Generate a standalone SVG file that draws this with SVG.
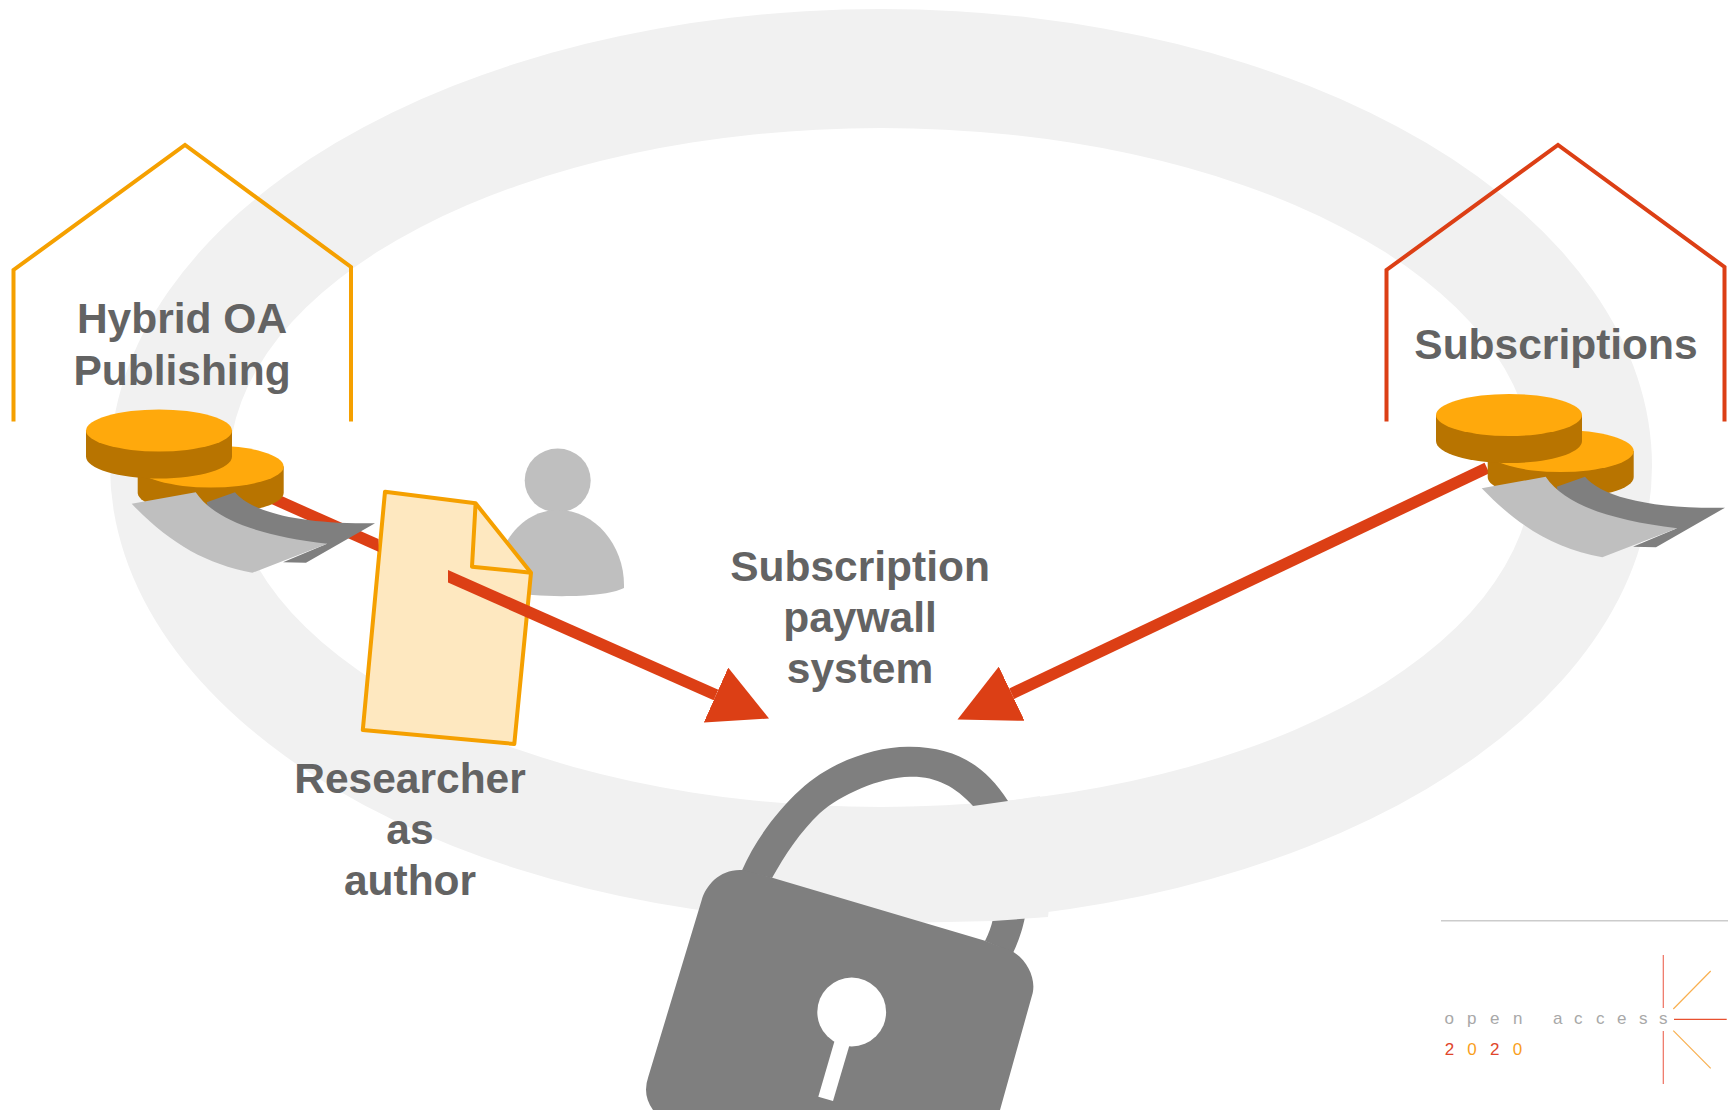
<svg xmlns="http://www.w3.org/2000/svg" xmlns:xlink="http://www.w3.org/1999/xlink" width="1728" height="1110" viewBox="0 0 1728 1110">
<style>
.label{font-family:"Liberation Sans",Arial,sans-serif;font-weight:700;font-size:42.5px;fill:#636363;text-anchor:middle}
.lockc{fill:#7f7f7f}
.ring{fill:#f1f1f1}
.conn{stroke:#dc3f15;stroke-width:11.5;fill:none}
.house{fill:none;stroke-width:4}
.coinTop{fill:#ffa90c}
.coinSide{fill:#b87400}
.logo{font-family:"Liberation Sans",Arial,sans-serif;font-size:17px}
</style>
<defs>
<marker id="head" markerUnits="userSpaceOnUse" markerWidth="62" markerHeight="60" viewBox="0 0 62 60" refX="0" refY="30" orient="auto"><path d="M0 0L58 30L0 60Z" fill="#dc3f15"/></marker>
<marker id="headR" markerUnits="userSpaceOnUse" markerWidth="62" markerHeight="60" viewBox="0 0 62 60" refX="0" refY="30" orient="auto"><path d="M0 0L60 30L0 60Z" fill="#dc3f15"/></marker>
<clipPath id="clipA"><rect x="0" y="0" width="378.5" height="1110"/></clipPath>
<clipPath id="clipB"><rect x="448" y="0" width="600" height="1110"/></clipPath>
<g id="coinMoney">
<path class="coinSide" d="M1487.7 451V477C1487.7 489 1520 498 1560.7 498S1633.7 489 1633.7 477V451Z"/>
<ellipse class="coinTop" cx="1560.7" cy="451" rx="73" ry="21"/>
<path class="coinSide" d="M1436 415V441C1436 453 1468 463 1509 463S1582 453 1582 441V415Z"/>
<ellipse class="coinTop" cx="1509" cy="415" rx="73" ry="21"/>
<path fill="#7f7f7f" d="M1556.7 486.7L1585 476.7C1600 495 1645 509 1725 507.7L1656 547.3L1633 546.7L1677 528.3L1620 540L1560 500Z"/>
<path fill="#bfbfbf" d="M1481.7 488.3L1545.7 476.7C1565 505 1610 520 1677.3 528.3L1602.3 557.3C1555 548 1520 528 1481.7 488.3Z"/>
</g>
</defs>
<rect width="1728" height="1110" fill="#ffffff"/>
<g id="lock-shackle-back"><path class="lockc" d="M1025 917C1022 932 1018 942 1013 953L985 941C989 933 991 927 993 919Z"/></g>
<g id="ring"><path class="ring" fill-rule="evenodd" d="M110 466A771 457 0 1 1 1652 466A771 457 0 1 1 110 466ZM229 467.5A652 339.5 0 1 0 1533 467.5A652 339.5 0 1 0 229 467.5Z"/>
<path class="ring" d="M900 807L973 806L1008 801L1040 796L1040 830L900 830ZM900 923L993 921L1048 917L1050 900L900 900Z"/></g>
<g id="lock">
<path class="lockc" d="M741.7 871C755 840 778 810 800 790C830 762 875 746 910 746.7C955 747 985 765 1008 801L973 806C955 786 935 776 910 776.7C880 777 840 795 820 813C800 832 785 855 772 878Z"/>
<path class="lockc" d="M741.7 870L772.3 877.7L985 940.7L1013 951.7C1027 960 1036 978 1032.7 993L1000 1110L653 1110Q642 1095 648.3 1076.7L701.7 900C706 885 720 869 741.7 870Z"/>
<circle cx="851.7" cy="1012" r="34.4" fill="#fff"/>
<path fill="#fff" d="M836 1036L851 1040L833 1101L818.3 1096.7Z"/>
</g>
<g id="hybrid-house">
<path class="house" stroke="#f5a000" d="M13.5 421.5V270L185 145L351 267V421.5"/>
<text class="label" x="182" y="333">Hybrid OA</text>
<text class="label" x="182" y="385">Publishing</text>
</g>
<g id="subscriptions-house">
<path class="house" stroke="#dc3f15" d="M1386.5 421.5V270L1558 145L1724.5 267V421.5"/>
<text class="label" x="1556" y="359">Subscriptions</text>
</g>
<g id="researcher">
<ellipse cx="557.7" cy="480.5" rx="33" ry="32" fill="#bfbfbf"/>
<path fill="#bfbfbf" d="M624 585C624 545 595 510 558 510C530 510 510 530 500 555L495 590C520 597 600 600 624 588Z"/>
<text class="label" x="410" y="792.5">Researcher</text>
<text class="label" x="410" y="844">as</text>
<text class="label" x="410" y="895">author</text>
</g>
<g id="paper">
<path fill="#fee8c0" stroke="#f5a000" stroke-width="4" stroke-linejoin="round" d="M385 491.7L475.6 503.3L531 572.7L514.3 744L362.8 730Z"/>
<path fill="none" stroke="#f5a000" stroke-width="4" stroke-linejoin="round" d="M475.6 503.3L472 566.7L531 572.7"/>
</g>
<g id="paywall-label">
<text class="label" x="860" y="581">Subscription</text>
<text class="label" x="860" y="632">paywall</text>
<text class="label" x="860" y="683">system</text>
</g>
<g id="connectors">
<g clip-path="url(#clipA)"><line class="conn" x1="262" y1="493.6" x2="400" y2="555"/></g>
<g clip-path="url(#clipB)"><line class="conn" x1="400" y1="555" x2="716" y2="695" marker-end="url(#head)"/></g>
<line class="conn" x1="1487" y1="468" x2="1011.7" y2="693.7" marker-end="url(#headR)"/>
</g>
<g id="hybrid-coins"><use xlink:href="#coinMoney" href="#coinMoney" transform="translate(-1350 15.5)"/></g>
<g id="subscription-coins"><use xlink:href="#coinMoney" href="#coinMoney"/></g>
<g id="logo">
<line x1="1441" y1="920.7" x2="1728" y2="920.7" stroke="#cccccc" stroke-width="1.5"/>
<text class="logo" fill="#a8a8a8" y="1024" x="1444.5 1467 1490 1513 1535 1553 1574 1596 1617 1639 1659">open access</text>
<text class="logo" y="1054.5"><tspan x="1444.7" fill="#e0452a">2</tspan><tspan x="1467.3" fill="#f9a01b">0</tspan><tspan x="1490" fill="#e0452a">2</tspan><tspan x="1512.7" fill="#f9a01b">0</tspan></text>
<path d="M1663.3 955V1008M1663.3 1031V1084" stroke="#ee7060" stroke-width="1.2" fill="none"/>
<path d="M1674 1019.3H1726.7" stroke="#e8502f" stroke-width="1.2" fill="none"/>
<path d="M1673.3 1009L1710.7 971M1673.3 1030.7L1710.7 1068.3" stroke="#f9b050" stroke-width="1.2" fill="none"/>
</g>
</svg>
